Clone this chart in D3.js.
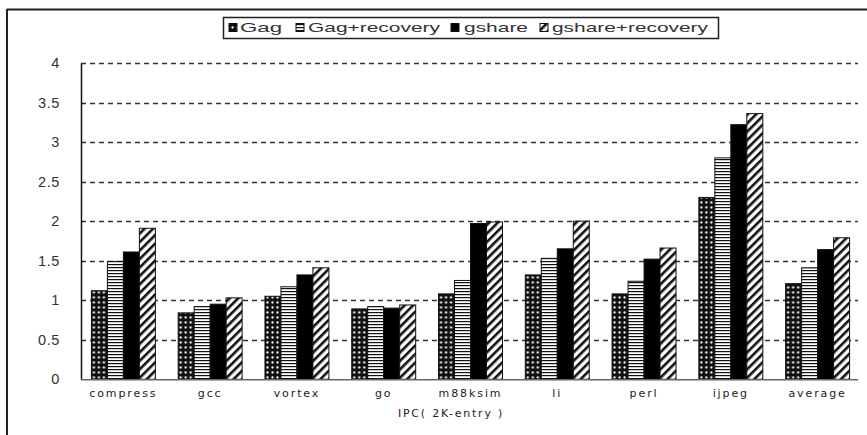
<!DOCTYPE html>
<html>
<head>
<meta charset="utf-8">
<script src="https://cdn.jsdelivr.net/npm/d3@7"></script>
<style>
  html, body { margin: 0; padding: 0; background: #fff; }
  svg { display: block; }
  text { font-family: "DejaVu Sans", sans-serif; fill: #222; }
</style>
</head>
<body>
<svg id="chart" width="867" height="435"></svg>
<script>
const categories = ["compress", "gcc", "vortex", "go", "m88ksim", "li", "perl", "ijpeg", "average"];
const seriesNames = ["Gag", "Gag+recovery", "gshare", "gshare+recovery"];
const gag          = [1.12, 0.84, 1.05, 0.89, 1.08, 1.32, 1.08, 2.30, 1.21];
const gagRecovery  = [1.49, 0.92, 1.17, 0.92, 1.25, 1.53, 1.24, 2.80, 1.41];
const gshare       = [1.61, 0.95, 1.32, 0.90, 1.97, 1.65, 1.52, 3.22, 1.64];
const gshareRecov  = [1.91, 1.03, 1.41, 0.94, 1.99, 2.00, 1.66, 3.36, 1.79];
const yTicks = [0, 0.5, 1, 1.5, 2, 2.5, 3, 3.5, 4];
const xTitle = "IPC( 2K-entry )";

const seriesValues = [gag, gagRecovery, gshare, gshareRecov];
const patternIds = ["pGag", "pGagRec", "pGshare", "pGshareRec"];

const svg = d3.select("#chart");
const defs = svg.append("defs");

// Gag: black with white dots
{
  const p = defs.append("pattern").attr("id", "pGag").attr("patternUnits", "userSpaceOnUse")
    .attr("width", 5).attr("height", 5);
  p.append("rect").attr("width", 5).attr("height", 5).attr("fill", "#111");
  p.append("circle").attr("cx", 2.5).attr("cy", 2.5).attr("r", 1.15).attr("fill", "#fff");
}
// Gag+recovery: horizontal lines
{
  const p = defs.append("pattern").attr("id", "pGagRec").attr("patternUnits", "userSpaceOnUse")
    .attr("width", 4).attr("height", 3);
  p.append("rect").attr("width", 4).attr("height", 3).attr("fill", "#fff");
  p.append("rect").attr("y", 0).attr("width", 4).attr("height", 1.2).attr("fill", "#111");
}
// gshare: solid
{
  const p = defs.append("pattern").attr("id", "pGshare").attr("patternUnits", "userSpaceOnUse")
    .attr("width", 4).attr("height", 4);
  p.append("rect").attr("width", 4).attr("height", 4).attr("fill", "#000");
}
// gshare+recovery: thick diagonal stripes
{
  const p = defs.append("pattern").attr("id", "pGshareRec").attr("patternUnits", "userSpaceOnUse")
    .attr("width", 6).attr("height", 6).attr("patternTransform", "rotate(45)");
  p.append("rect").attr("width", 6).attr("height", 6).attr("fill", "#fff");
  p.append("rect").attr("x", 0).attr("width", 2.6).attr("height", 6).attr("fill", "#111");
}

// outer frame
svg.append("line").attr("x1", 7).attr("x2", 867).attr("y1", 9.5).attr("y2", 9.5)
  .attr("stroke", "#222").attr("stroke-width", 2);
svg.append("line").attr("x1", 7).attr("x2", 7).attr("y1", 9).attr("y2", 435)
  .attr("stroke", "#222").attr("stroke-width", 2);

const x0 = d3.scaleBand().domain(categories).range([80, 861]).paddingInner(0.263).paddingOuter(0.1315);
const x1 = d3.scaleBand().domain(seriesNames).range([0, x0.bandwidth()]);
const y = d3.scaleLinear().domain([0, 4]).range([379.3, 63]);

// gridlines
svg.append("g").selectAll("line").data(yTicks.filter(d => d > 0)).join("line")
  .attr("x1", 81).attr("x2", 858)
  .attr("y1", d => Math.round(y(d)) + 0.5).attr("y2", d => Math.round(y(d)) + 0.5)
  .attr("stroke", "#333").attr("stroke-width", 1.3).attr("stroke-dasharray", "5,4");

// y axis
const yAxis = d3.axisLeft(y).tickValues(yTicks).tickSize(0).tickPadding(21).tickFormat(d3.format("~g"));
const gy = svg.append("g").attr("transform", "translate(81,0)").call(yAxis);
gy.select(".domain").attr("stroke", "#111").attr("stroke-width", 1.5);
gy.selectAll("text").style("font-size", "14.5px").style("fill", "#333")
  .style("font-family", "'Liberation Sans', sans-serif").attr("letter-spacing", "0.6px");

// bars
const groups = svg.append("g").selectAll("g").data(categories).join("g")
  .attr("transform", d => `translate(${x0(d)},0)`);
groups.selectAll("rect").data((c, i) => seriesNames.map((s, j) => ({ s, j, v: seriesValues[j][i] })))
  .join("rect")
  .attr("x", d => x1(d.s)).attr("width", x1.bandwidth())
  .attr("y", d => y(d.v)).attr("height", d => y(0) - y(d.v))
  .attr("fill", d => `url(#${patternIds[d.j]})`)
  .attr("stroke", "#111").attr("stroke-width", 1);

// x axis
const xAxis = d3.axisBottom(x0).tickSize(0).tickPadding(10);
const gx = svg.append("g").attr("transform", `translate(0,${y(0)})`).call(xAxis);
gx.select(".domain").attr("d", `M81,0.5H858`).attr("stroke", "#666").attr("stroke-width", 1.5);
gx.selectAll("text").style("font-size", "11px").style("fill", "#222").attr("letter-spacing", "1.9px");

svg.append("text").attr("x", 451).attr("y", 417).attr("text-anchor", "middle")
  .style("font-size", "11px").attr("letter-spacing", "1.8px").text(xTitle);

// legend
const lg = svg.append("g");
lg.append("rect").attr("x", 223.5).attr("y", 17.5).attr("width", 495).attr("height", 21)
  .attr("fill", "#fff").attr("stroke", "#222").attr("stroke-width", 1.5);
const legendX = [229, 296, 451, 540];
const legendTextX = [240, 308, 464, 552];
const legendTextW = [42, 132, 64, 156];
seriesNames.forEach((s, j) => {
  lg.append("rect").attr("x", legendX[j]).attr("y", 23.5).attr("width", 8).attr("height", 8)
    .attr("fill", `url(#${patternIds[j]})`).attr("stroke", "#111").attr("stroke-width", 1);
  lg.append("text").attr("x", legendTextX[j]).attr("y", 32)
    .attr("textLength", legendTextW[j]).attr("lengthAdjust", "spacingAndGlyphs")
    .style("font-size", "13px").style("fill", "#333")
    .style("font-family", "'Liberation Sans', sans-serif").text(s);
});
</script>
</body>
</html>
